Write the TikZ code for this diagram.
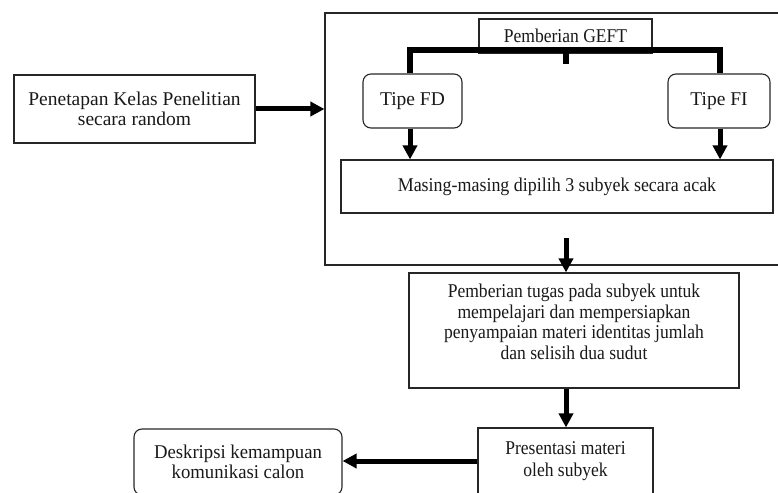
\documentclass[tikz,border=0pt]{standalone}
\usepackage{fontspec}
\setmainfont[FakeStretch=0.84]{Liberation Serif}
\newfontfamily\fb[FakeStretch=0.92]{Liberation Serif}
\newfontfamily\fc[FakeStretch=0.90]{Liberation Serif}
\newfontfamily\fd[FakeStretch=0.96]{Liberation Serif}
\newfontfamily\fe[FakeStretch=1.0]{Liberation Serif}
\usetikzlibrary{arrows.meta}
\begin{document}
\begin{tikzpicture}[x=1pt,y=-1pt,
  box/.style={draw=black!85,line width=1.1pt,rectangle,inner sep=0pt,align=center,font=\fontsize{19.5}{20.5}\selectfont,text=black!90},
  rbox/.style={box,rounded corners=8pt},
  flow/.style={line width=5pt,-{Triangle[width=14pt,length=14pt]}},
  bar/.style={line width=6pt}]
\useasboundingbox (0,0) rectangle (778,492);
\node[box,minimum width=241,minimum height=68,font=\fe\fontsize{19.5}{20.5}\selectfont] (pen) at (134.5,109) {Penetapan Kelas Penelitian\\secara random};
\node[box,minimum width=470,minimum height=252] (outer) at (560,139) {};
\node[box,fill=white,minimum width=173,minimum height=34,font=\fc\fontsize{19.5}{20.5}\selectfont] (geft) at (565.5,36) {Pemberian GEFT};
\node[rbox,minimum width=99,minimum height=54,font=\fe\fontsize{19.5}{20.5}\selectfont] (fd) at (412.5,101) {Tipe FD};
\node[rbox,minimum width=102,minimum height=54,font=\fe\fontsize{19.5}{20.5}\selectfont] (fi) at (719,101) {Tipe FI};
\node[box,minimum width=432,minimum height=53,font=\fb\fontsize{19.5}{20.5}\selectfont] (masing) at (557,186.5) {Masing-masing dipilih 3 subyek secara acak};
\node[box,minimum width=330,minimum height=115,font=\fc\fontsize{19.5}{20.5}\selectfont] (tugas) at (574,330.5) {Pemberian tugas pada subyek untuk\\mempelajari dan mempersiapkan\\penyampaian materi identitas jumlah\\dan selisih dua sudut\\[-3pt]\mbox{}};
\node[box,minimum width=175,minimum height=66,font=\fc\fontsize{19.5}{22}\selectfont] (pres) at (565.5,461) {Presentasi materi\\oleh subyek};
\node[rbox,minimum width=208,minimum height=66,font=\fd\fontsize{19.5}{20.5}\selectfont] (desk) at (238,462) {Deskripsi kemampuan\\komunikasi calon};
\coordinate (c1) at (566,238);
% connectors
\draw[flow] (pen.east) -- (pen.east -| outer.west);
\draw[bar] ([xshift=-2.5pt]fd.north) |- ([yshift=4pt]geft.south) -| ([xshift=1pt]fi.north);
\draw[line width=6pt] ([yshift=4pt]geft.south) -- ++(0,14);
\draw[flow] ([xshift=-2.5pt]fd.south) -- ([xshift=-2.5pt]fd.south |- masing.north);
\draw[flow] ([xshift=1pt]fi.south) -- ([xshift=1pt]fi.south |- masing.north);
\draw[flow] (c1) -- (c1 |- tugas.north);
\draw[flow] (c1 |- tugas.south) -- (c1 |- pres.north);
\draw[flow] (pres.west) -- (pres.west -| desk.east);
\end{tikzpicture}
\end{document}
